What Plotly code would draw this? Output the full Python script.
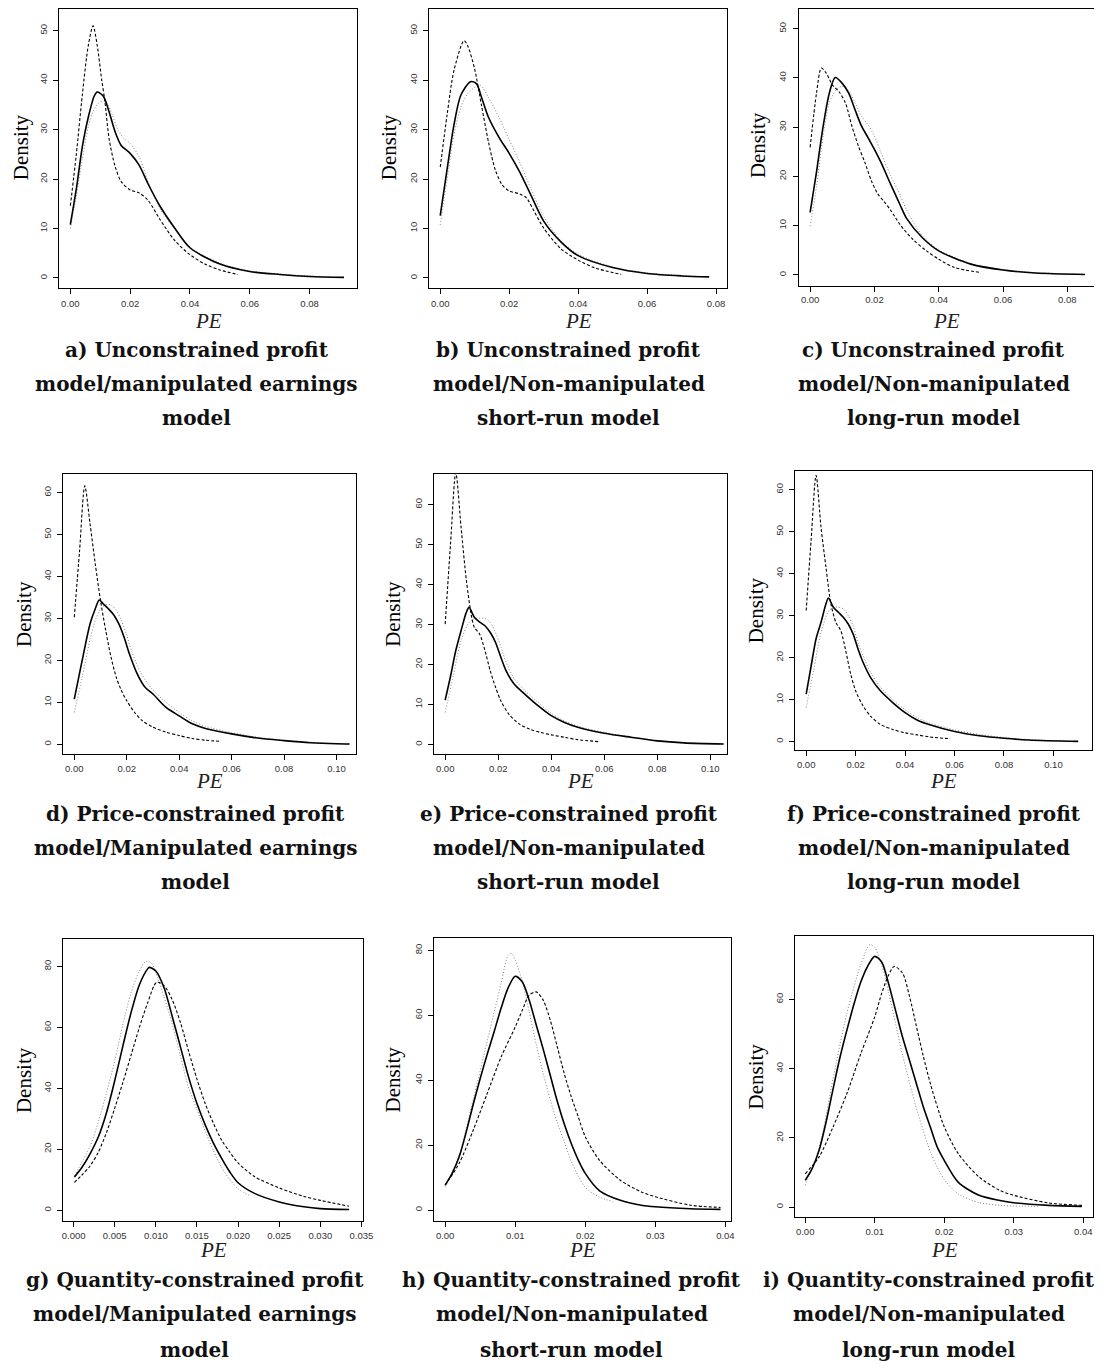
import plotly.graph_objects as go

# page body has an 8px margin, so the figure is offset by 8px
OFF = 8
W, H = 1104 - OFF, 1371 - OFF

# ---------------- data ----------------
# Panel a
a_solid_x = [0, 0.002, 0.004, 0.006, 0.008, 0.009, 0.011, 0.013, 0.015, 0.017, 0.020, 0.023, 0.026, 0.030, 0.035, 0.040, 0.050, 0.060, 0.070, 0.080, 0.0915]
a_solid_y = [10.8, 18, 26.5, 32.5, 36.8, 37.6, 36.8, 33.5, 29.5, 26.8, 25.2, 22.8, 19, 14.5, 10, 6.1, 2.8, 1.3, 0.7, 0.3, 0.1]
a_dash_x = [0, 0.002, 0.004, 0.006, 0.0076, 0.009, 0.0105, 0.0115, 0.013, 0.015, 0.017, 0.020, 0.023, 0.026, 0.030, 0.035, 0.040, 0.045, 0.050, 0.056]
a_dash_y = [14.6, 25, 37, 47, 51, 47, 40, 36, 28, 22.5, 19.5, 17.8, 17.2, 15.7, 11.8, 7.5, 4.7, 2.8, 1.6, 0.7]
a_dot_x = [0, 0.002, 0.004, 0.006, 0.008, 0.010, 0.012, 0.014, 0.016, 0.018, 0.020, 0.023, 0.026, 0.030, 0.035, 0.040, 0.050, 0.060, 0.070, 0.080, 0.090]
a_dot_y = [10, 16.5, 24, 30.5, 34.2, 35.6, 35.5, 33, 29.8, 28.2, 27.2, 24.5, 19.5, 14, 9.8, 6.2, 3.0, 1.4, 0.8, 0.4, 0.1]

# Panel b
b_solid_x = [0, 0.002, 0.004, 0.006, 0.0088, 0.0105, 0.012, 0.014, 0.017, 0.020, 0.023, 0.026, 0.030, 0.035, 0.040, 0.050, 0.060, 0.070, 0.078]
b_solid_y = [12.6, 22, 31, 37, 39.7, 39.3, 36.5, 32.5, 28.5, 25.2, 21.5, 17.2, 11.5, 7.3, 4.5, 2.1, 0.9, 0.4, 0.2]
b_dash_x = [0, 0.002, 0.004, 0.0069, 0.008, 0.010, 0.012, 0.014, 0.016, 0.018, 0.020, 0.023, 0.025, 0.027, 0.030, 0.035, 0.040, 0.045, 0.0525]
b_dash_y = [22.4, 33, 42, 48, 46.9, 42.2, 34.8, 27.5, 21.8, 18.8, 17.6, 17.0, 16.2, 13.8, 10.1, 5.9, 3.6, 2.0, 0.7]
b_dot_x = [0, 0.002, 0.004, 0.006, 0.008, 0.0115, 0.014, 0.017, 0.020, 0.023, 0.026, 0.030, 0.035, 0.040, 0.050, 0.060, 0.070, 0.078]
b_dot_y = [10.7, 20, 29, 34.5, 37.3, 39, 36.5, 32.5, 28, 23.5, 18.5, 12.5, 7.5, 4.8, 2.2, 1.0, 0.5, 0.2]

# Panel c
c_solid_x = [0, 0.002, 0.004, 0.006, 0.0078, 0.010, 0.012, 0.014, 0.016, 0.018, 0.020, 0.022, 0.025, 0.028, 0.030, 0.035, 0.040, 0.050, 0.060, 0.070, 0.0855]
c_solid_y = [12.7, 21, 30, 37, 40.1, 38.9, 36.9, 33.5, 30.2, 27.9, 25.5, 22.9, 18.5, 14.2, 11.5, 7.5, 4.9, 2.2, 1.0, 0.4, 0.1]
c_dash_x = [0, 0.002, 0.0035, 0.005, 0.007, 0.009, 0.011, 0.013, 0.015, 0.017, 0.019, 0.021, 0.023, 0.025, 0.028, 0.032, 0.036, 0.040, 0.045, 0.053]
c_dash_y = [25.9, 37, 42, 41, 38.5, 37.2, 34.9, 30.2, 26.2, 22.9, 19.2, 16.5, 14.9, 13.2, 10.2, 7.2, 5.0, 3.2, 1.5, 0.5]
c_dot_x = [0, 0.002, 0.004, 0.006, 0.008, 0.010, 0.012, 0.014, 0.016, 0.018, 0.020, 0.022, 0.025, 0.028, 0.030, 0.035, 0.040, 0.050, 0.060, 0.070, 0.0855]
c_dot_y = [9.9, 18, 28, 35, 37.5, 38.3, 37.4, 34.9, 32.2, 30.5, 28.2, 24.9, 20.2, 16.2, 13.2, 7.9, 5.1, 2.3, 1.1, 0.5, 0.1]

# Panel d
d_solid_x = [0, 0.003, 0.006, 0.008, 0.0095, 0.011, 0.013, 0.015, 0.017, 0.019, 0.021, 0.024, 0.027, 0.030, 0.035, 0.040, 0.045, 0.050, 0.060, 0.070, 0.080, 0.090, 0.100, 0.105]
d_solid_y = [10.8, 20, 28.7, 32.3, 34.4, 33.5, 32.3, 30.9, 28.7, 25.5, 21.6, 16.8, 13.6, 12.0, 8.8, 6.8, 4.9, 3.8, 2.5, 1.5, 0.9, 0.4, 0.15, 0.1]
d_dash_x = [0, 0.002, 0.004, 0.006, 0.008, 0.010, 0.012, 0.014, 0.016, 0.018, 0.020, 0.023, 0.026, 0.030, 0.035, 0.040, 0.045, 0.050, 0.056]
d_dash_y = [30.3, 46, 61.6, 52.6, 43, 34.3, 27.1, 20.8, 16, 12.8, 10.4, 7.6, 5.6, 4.1, 2.9, 2.1, 1.4, 1.0, 0.7]
d_dot_x = [0, 0.003, 0.006, 0.008, 0.010, 0.012, 0.014, 0.016, 0.018, 0.020, 0.022, 0.025, 0.028, 0.030, 0.035, 0.040, 0.045, 0.050, 0.060, 0.070, 0.080, 0.090, 0.100, 0.105]
d_dot_y = [7.6, 16, 25, 29.5, 32.3, 33.3, 33.2, 32, 29.5, 26, 22, 17.5, 14.5, 13.0, 10, 7.6, 5.6, 4.3, 2.8, 1.7, 1.0, 0.5, 0.2, 0.1]

# Panel e
e_solid_x = [0, 0.002, 0.004, 0.006, 0.008, 0.009, 0.011, 0.013, 0.015, 0.017, 0.019, 0.021, 0.023, 0.026, 0.030, 0.035, 0.040, 0.045, 0.050, 0.060, 0.070, 0.080, 0.090, 0.105]
e_solid_y = [11.1, 17, 23.5, 28.5, 33.1, 34.3, 31.8, 30.6, 29.7, 28, 25.5, 21.8, 18.4, 15.1, 12.6, 9.7, 7.2, 5.5, 4.3, 2.8, 1.8, 0.9, 0.4, 0.1]
e_dash_x = [0, 0.002, 0.004, 0.006, 0.008, 0.010, 0.011, 0.013, 0.015, 0.017, 0.019, 0.021, 0.024, 0.028, 0.032, 0.036, 0.040, 0.045, 0.050, 0.058]
e_dash_y = [30.1, 50, 68, 54.3, 41, 31.8, 29.3, 27.6, 23.5, 18.4, 14.3, 10.9, 7.6, 5.1, 3.8, 3.0, 2.4, 1.8, 1.2, 0.7]
e_dot_x = [0, 0.003, 0.006, 0.009, 0.011, 0.013, 0.015, 0.017, 0.019, 0.021, 0.023, 0.026, 0.030, 0.035, 0.040, 0.045, 0.050, 0.060, 0.070, 0.080, 0.090, 0.105]
e_dot_y = [8.0, 17, 26, 30.5, 31.5, 31.6, 31.5, 30.5, 28, 24.5, 20.5, 16.5, 13.5, 10.5, 7.8, 5.9, 4.6, 3.0, 1.9, 1.0, 0.5, 0.1]

# Panel f
f_solid_x = [0, 0.002, 0.004, 0.006, 0.008, 0.009, 0.011, 0.013, 0.015, 0.017, 0.019, 0.021, 0.023, 0.026, 0.030, 0.035, 0.040, 0.045, 0.050, 0.060, 0.070, 0.080, 0.090, 0.110]
f_solid_y = [11.3, 18, 24.5, 28.4, 32.8, 34.2, 32, 30.8, 29.6, 28, 25.6, 22, 18.9, 15.3, 12.1, 9.3, 6.9, 5.1, 4.0, 2.4, 1.4, 0.8, 0.4, 0.05]
f_dash_x = [0, 0.002, 0.004, 0.006, 0.008, 0.010, 0.012, 0.014, 0.016, 0.018, 0.020, 0.023, 0.026, 0.030, 0.035, 0.040, 0.045, 0.050, 0.058]
f_dash_y = [31.2, 48, 63.4, 51, 41.5, 32.8, 28.4, 26.4, 21.6, 16.1, 12.1, 8.5, 6.1, 4.1, 2.9, 2.1, 1.6, 1.1, 0.7]
f_dot_x = [0, 0.003, 0.006, 0.009, 0.011, 0.013, 0.015, 0.017, 0.019, 0.021, 0.023, 0.026, 0.030, 0.035, 0.040, 0.045, 0.050, 0.060, 0.070, 0.080, 0.090, 0.110]
f_dot_y = [8.1, 17, 26, 31, 32, 32, 31.6, 30, 27.5, 23.5, 20.5, 16.5, 13, 10, 7.6, 5.7, 4.4, 2.8, 1.7, 1.0, 0.5, 0.05]

# Panel g
g_solid_x = [0.0001, 0.001, 0.002, 0.003, 0.004, 0.005, 0.006, 0.007, 0.008, 0.009, 0.0092, 0.010, 0.011, 0.012, 0.013, 0.014, 0.015, 0.016, 0.017, 0.018, 0.019, 0.020, 0.022, 0.025, 0.028, 0.030, 0.0335]
g_solid_y = [10.9, 14, 18.5, 24, 32, 42.5, 54, 65, 74, 79.2, 79.7, 78.5, 73, 63.5, 53.5, 43.5, 35, 28, 22, 17, 12.5, 9, 5.5, 2.7, 1.1, 0.5, 0.2]
g_dash_x = [0.0001, 0.001, 0.002, 0.003, 0.004, 0.005, 0.006, 0.007, 0.008, 0.009, 0.0101, 0.011, 0.012, 0.013, 0.014, 0.015, 0.016, 0.017, 0.018, 0.019, 0.020, 0.022, 0.025, 0.028, 0.030, 0.0335]
g_dash_y = [9.1, 11.5, 14.5, 19, 25.5, 33.5, 42, 51, 60, 68, 74.8, 73.7, 69, 61.5, 52, 43, 35, 28.5, 23, 19, 15.5, 11, 7.3, 4.5, 3.2, 1.3]
g_dot_x = [0.0001, 0.002, 0.003, 0.004, 0.005, 0.006, 0.007, 0.008, 0.0088, 0.0095, 0.010, 0.011, 0.012, 0.013, 0.014, 0.015, 0.016, 0.017, 0.018, 0.019, 0.020, 0.0215]
g_dot_y = [11.3, 21, 29, 38.5, 49, 61, 71.5, 78.5, 81.7, 81, 78, 70, 61, 50.5, 40, 33, 26, 19.5, 14, 10, 7, 4.6]

# Panel h
h_solid_x = [0, 0.001, 0.002, 0.003, 0.004, 0.005, 0.006, 0.007, 0.008, 0.009, 0.010, 0.011, 0.012, 0.013, 0.014, 0.015, 0.016, 0.017, 0.018, 0.019, 0.020, 0.022, 0.025, 0.028, 0.030, 0.035, 0.0393]
h_solid_y = [7.7, 11.3, 16.4, 24, 32.5, 40.5, 48, 55, 62.3, 68.5, 72, 70.3, 64.6, 57, 49.5, 41.5, 33.5, 26.5, 20.5, 15.4, 11.3, 6, 3, 1.5, 1.0, 0.4, 0.2]
h_dash_x = [0, 0.002, 0.004, 0.006, 0.008, 0.010, 0.011, 0.012, 0.013, 0.014, 0.015, 0.016, 0.017, 0.018, 0.019, 0.020, 0.022, 0.025, 0.028, 0.030, 0.035, 0.0393]
h_dash_y = [7.7, 14.4, 24.6, 35.9, 47.2, 56.4, 61.5, 66.2, 67.2, 64.6, 58.5, 50.3, 42, 34.9, 28.7, 22.6, 15.4, 9.2, 5.6, 4.1, 1.5, 0.8]
h_dot_x = [0, 0.002, 0.004, 0.006, 0.007, 0.008, 0.009, 0.0095, 0.010, 0.011, 0.012, 0.013, 0.014, 0.015, 0.016, 0.017, 0.018, 0.019, 0.020, 0.022, 0.024]
h_dot_y = [7.2, 17, 34, 52, 61, 70, 78.5, 79, 77, 70.5, 61, 51, 42, 34, 27, 21, 15, 10.5, 7, 4, 2.6]

# Panel i
i_solid_x = [0, 0.001, 0.002, 0.003, 0.004, 0.005, 0.006, 0.007, 0.008, 0.009, 0.010, 0.011, 0.012, 0.013, 0.014, 0.015, 0.016, 0.017, 0.018, 0.019, 0.020, 0.022, 0.025, 0.028, 0.030, 0.035, 0.0398]
i_solid_y = [7.7, 11.1, 16.4, 24.5, 34, 43.2, 51.1, 58.5, 65, 69.6, 72.4, 70.8, 64.5, 56.8, 49.1, 42.4, 35.6, 28.9, 23.1, 17.3, 13.5, 7.2, 3.4, 1.9, 1.25, 0.5, 0.2]
i_dash_x = [0, 0.002, 0.004, 0.006, 0.008, 0.010, 0.011, 0.012, 0.0128, 0.014, 0.015, 0.016, 0.017, 0.018, 0.019, 0.020, 0.022, 0.025, 0.028, 0.030, 0.035, 0.0398]
i_dash_y = [9.6, 14.5, 23.1, 32.8, 44.3, 54.9, 61.7, 67, 69.5, 67.6, 60.9, 52.2, 43.5, 35.7, 29, 23.2, 15.5, 8.7, 4.8, 3.4, 1.2, 0.5]
i_dot_x = [0, 0.002, 0.004, 0.006, 0.008, 0.0093, 0.010, 0.011, 0.012, 0.013, 0.014, 0.015, 0.016, 0.017, 0.018, 0.019, 0.020, 0.022, 0.025, 0.028, 0.030, 0.0335]
i_dot_y = [6.3, 17, 37, 56, 70, 75.8, 75, 70, 62, 53, 44, 36, 28.5, 22, 16, 11.5, 8, 3.8, 1.3, 0.5, 0.3, 0.2]

# tick values / labels
ticks_x_abc = [0.00, 0.02, 0.04, 0.06, 0.08]
ticks_x_def = [0.00, 0.02, 0.04, 0.06, 0.08, 0.10]
ticks_x_g = [0.000, 0.005, 0.010, 0.015, 0.020, 0.025, 0.030, 0.035]
ticks_x_hi = [0.00, 0.01, 0.02, 0.03, 0.04]
ticks_y_abc = [0, 10, 20, 30, 40, 50]
ticks_y_def = [0, 10, 20, 30, 40, 50, 60]
ticks_y_gh = [0, 20, 40, 60, 80]
ticks_y_i = [0, 20, 40, 60]

captions = [
    ["a) Unconstrained profit", "model/manipulated earnings", "model"],
    ["b) Unconstrained profit", "model/Non-manipulated", "short-run model"],
    ["c) Unconstrained profit", "model/Non-manipulated", "long-run model"],
    ["d) Price-constrained profit", "model/Manipulated earnings", "model"],
    ["e) Price-constrained profit", "model/Non-manipulated", "short-run model"],
    ["f) Price-constrained profit", "model/Non-manipulated", "long-run model"],
    ["g) Quantity-constrained profit", "model/Manipulated earnings", "model"],
    ["h) Quantity-constrained profit", "model/Non-manipulated", "short-run model"],
    ["i) Quantity-constrained profit", "model/Non-manipulated", "long-run model"],
]

series = [
    (a_solid_x, a_solid_y, a_dash_x, a_dash_y, a_dot_x, a_dot_y),
    (b_solid_x, b_solid_y, b_dash_x, b_dash_y, b_dot_x, b_dot_y),
    (c_solid_x, c_solid_y, c_dash_x, c_dash_y, c_dot_x, c_dot_y),
    (d_solid_x, d_solid_y, d_dash_x, d_dash_y, d_dot_x, d_dot_y),
    (e_solid_x, e_solid_y, e_dash_x, e_dash_y, e_dot_x, e_dot_y),
    (f_solid_x, f_solid_y, f_dash_x, f_dash_y, f_dot_x, f_dot_y),
    (g_solid_x, g_solid_y, g_dash_x, g_dash_y, g_dot_x, g_dot_y),
    (h_solid_x, h_solid_y, h_dash_x, h_dash_y, h_dot_x, h_dot_y),
    (i_solid_x, i_solid_y, i_dash_x, i_dash_y, i_dot_x, i_dot_y),
]

# ---------------- layout (pixel geometry in page coordinates) ----------------
panels = [
    dict(box=(58, 6, 359, 287), xr=(-0.00364, 0.0959), yr=(-2.0, 54.4), xt=ticks_x_abc, yt=ticks_y_abc, fmt="%.2f", ylab=20, ymirror=True, xso=2),
    dict(box=(432, 6, 733, 287), xr=(-0.00315, 0.0832), yr=(-2.0, 54.4), xt=ticks_x_abc, yt=ticks_y_abc, fmt="%.2f", ylab=392, ymirror=True, xso=2),
    dict(box=(806, 4, 1104, 285), xr=(-0.00338, 0.0883), yr=(-2.2, 54.0), xt=ticks_x_abc, yt=ticks_y_abc, fmt="%.2f", ylab=765, ymirror=False, xso=0),
    dict(box=(62, 473, 358, 754), xr=(-0.00415, 0.1075), yr=(-2.4, 64.5), xt=ticks_x_def, yt=ticks_y_def, fmt="%.2f", ylab=22, ymirror=True, xso=0),
    dict(box=(437, 473, 733, 754), xr=(-0.0041, 0.1063), yr=(-2.5, 67.75), xt=ticks_x_def, yt=ticks_y_def, fmt="%.2f", ylab=395, ymirror=True, xso=0),
    dict(box=(802, 470, 1102, 750), xr=(-0.0044, 0.1156), yr=(-2.1, 64.5), xt=ticks_x_def, yt=ticks_y_def, fmt="%.2f", ylab=762, ymirror=True, xso=0),
    dict(box=(62, 939, 365, 1221), xr=(-0.00124, 0.0352), yr=(-3.6, 88.9), xt=ticks_x_g, yt=ticks_y_gh, fmt="%.3f", ylab=22, ymirror=True, xso=0),
    dict(box=(437, 938, 737, 1221), xr=(-0.00155, 0.0408), yr=(-3.4, 83.7), xt=ticks_x_hi, yt=ticks_y_gh, fmt="%.2f", ylab=395, ymirror=True, xso=0),
    dict(box=(802, 936, 1103, 1217), xr=(-0.00142, 0.0414), yr=(-2.9, 78.2), xt=ticks_x_hi, yt=ticks_y_i, fmt="%.2f", ylab=762, ymirror=True, xso=0),
]
caption_cx = [197, 573, 942, 196, 573, 942, 195, 576, 937]
caption_rows_y = [(349, 383, 417), (814, 848, 882), (1280, 1314, 1350)]
pe_y = [320, 781, 1250]

def px(x):
    return (x - OFF) / W

def py(y):
    return 1 - (y - OFF) / H

fig = go.Figure()
layout = dict(
    width=W, height=H, margin=dict(l=0, r=0, t=0, b=0),
    paper_bgcolor="white", plot_bgcolor="white", showlegend=False,
)
annotations = []
tickfont = dict(family="Liberation Sans, Arial, sans-serif", size=9.5, color="#333")

for k, (p, s) in enumerate(zip(panels, series)):
    n = "" if k == 0 else str(k + 1)
    xa, ya = "x" + n, "y" + n
    l, t, r, b = p["box"]
    sx, sy, dx, dy, ox, oy = s
    fig.add_trace(go.Scatter(x=ox, y=oy, mode="lines", xaxis=xa, yaxis=ya,
                             line=dict(color="#808080", width=1, dash="1px,2px", shape="spline", smoothing=0.8)))
    fig.add_trace(go.Scatter(x=dx, y=dy, mode="lines", xaxis=xa, yaxis=ya,
                             line=dict(color="black", width=1.1, dash="3px,2px", shape="spline", smoothing=0.8)))
    fig.add_trace(go.Scatter(x=sx, y=sy, mode="lines", xaxis=xa, yaxis=ya,
                             line=dict(color="black", width=1.6, shape="spline", smoothing=0.8)))
    axis_common = dict(showgrid=False, zeroline=False, showline=True, linecolor="black", linewidth=1,
                       ticks="outside", ticklen=5, tickwidth=1, tickcolor="black", tickfont=tickfont)
    layout["xaxis" + n] = dict(domain=[max(0, px(l)), min(1, px(r))], range=list(p["xr"]), anchor=ya,
                               tickvals=p["xt"], ticktext=[p["fmt"] % v for v in p["xt"]],
                               mirror=True, ticklabelstandoff=p["xso"], **axis_common)
    layout["yaxis" + n] = dict(domain=[max(0, py(b)), min(1, py(t))], range=list(p["yr"]), anchor=xa,
                               tickvals=p["yt"], ticktext=[str(v) for v in p["yt"]], tickangle=-90,
                               mirror=p["ymirror"], ticklabelstandoff=3, **axis_common)
    annotations.append(dict(text="Density", x=px(p["ylab"]), y=py((t + b) / 2), xref="paper", yref="paper",
                            showarrow=False, textangle=-90, xanchor="center", yanchor="middle",
                            font=dict(family="Liberation Serif, Times New Roman, serif", size=21, color="black")))
    annotations.append(dict(text="<i>PE</i>", x=px((l + r) / 2), y=py(pe_y[k // 3]), xref="paper", yref="paper",
                            showarrow=False, xanchor="center", yanchor="middle",
                            font=dict(family="Liberation Serif, Times New Roman, serif", size=21, color="#222")))
    for line, yy in zip(captions[k], caption_rows_y[k // 3]):
        annotations.append(dict(text="<b>%s</b>" % line, x=px(caption_cx[k]), y=py(yy), xref="paper", yref="paper",
                                showarrow=False, xanchor="center", yanchor="middle",
                                font=dict(family="DejaVu Serif, serif", size=20, color="#111")))

layout["annotations"] = annotations
fig.update_layout(**layout)
fig.write_html("out.html")
